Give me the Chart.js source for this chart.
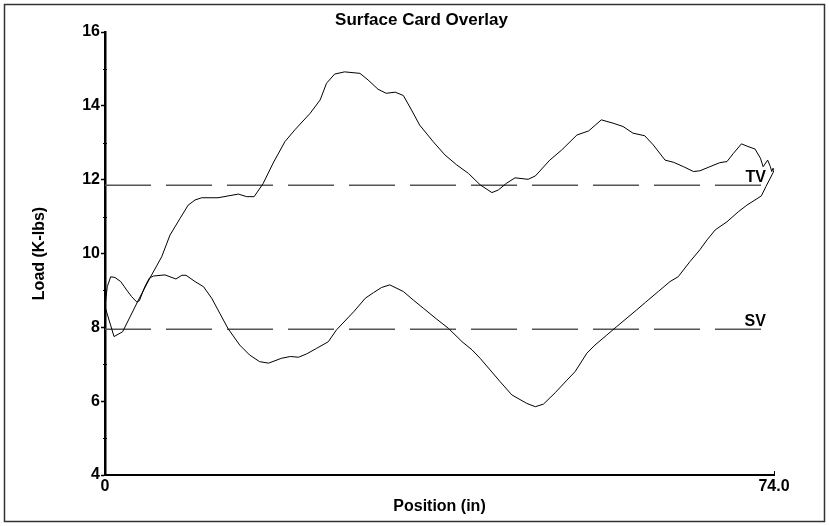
<!DOCTYPE html>
<html>
<head>
<meta charset="utf-8">
<title>Surface Card Overlay</title>
<script src="https://cdn.jsdelivr.net/npm/chart.js@4.4.1/dist/chart.umd.min.js"></script>
<style>
  html, body { margin: 0; padding: 0; background: #ffffff; }
  canvas { display: block; }
</style>
</head>
<body>
<canvas id="card" width="829" height="526"></canvas>
<script>
// Upstroke of the surface card: position (in) and load (K-lbs)
const upPos  = [0, 1.0, 1.95, 3.7, 4.98, 6.27, 7.19, 8.3, 9.2, 9.96, 10.7, 12.5, 14.75, 15.67, 16.5, 17.5, 18.6, 19.9, 21.0, 22.7, 23.8, 24.5, 25.4, 26.5, 28.2, 29.1, 30.2, 31.1, 32.1, 33.0, 33.9, 34.8, 36.3, 37.6, 38.9, 40.2, 41.5, 42.8, 43.5, 44.4, 45.35, 46.8, 47.6, 49.2, 50.5, 52.2, 53.5, 54.9, 56.2, 57.3, 58.4, 59.7, 60.65, 61.95, 62.9, 64.0, 65.1, 65.8, 66.9, 68.0, 68.8, 69.5, 70.4, 71.0, 71.9, 72.5, 72.8, 73.3, 73.6, 73.75, 73.9, 74.0];
const upLoad = [8.56, 7.75, 7.88, 8.74, 9.34, 9.91, 10.5, 10.95, 11.31, 11.45, 11.51, 11.51, 11.61, 11.54, 11.54, 11.9, 12.45, 13.03, 13.35, 13.8, 14.16, 14.61, 14.86, 14.92, 14.88, 14.7, 14.45, 14.34, 14.37, 14.28, 13.89, 13.48, 13.03, 12.67, 12.4, 12.17, 11.86, 11.65, 11.72, 11.9, 12.05, 12.01, 12.1, 12.53, 12.8, 13.21, 13.32, 13.62, 13.53, 13.44, 13.26, 13.19, 12.94, 12.53, 12.47, 12.35, 12.22, 12.24, 12.35, 12.46, 12.49, 12.71, 12.97, 12.91, 12.83, 12.58, 12.35, 12.53, 12.35, 12.22, 12.31, 12.26];

// Downstroke, running from the top of the stroke back to zero
const downPos  = [74.0, 73.9, 73.1, 72.6, 71.9, 71.0, 70.05, 68.8, 67.5, 66.6, 65.8, 64.7, 63.4, 62.5, 61.2, 59.8, 58.8, 56.6, 55.5, 54.2, 53.3, 52.0, 51.1, 49.8, 48.5, 47.6, 46.65, 45.0, 43.7, 41.5, 40.6, 39.5, 38.0, 36.7, 35.2, 34.1, 33.0, 31.5, 30.6, 29.7, 28.8, 27.5, 25.6, 24.7, 23.4, 22.3, 21.4, 20.5, 19.5, 18.1, 17.1, 16.0, 14.9, 13.6, 12.7, 11.8, 10.9, 9.96, 8.96, 8.5, 7.85, 6.64, 5.35, 4.9, 4.4, 3.8, 3.5, 2.95, 2.4, 1.74, 1.1, 0.63, 0.25, 0];
const downLoad = [12.26, 12.19, 11.81, 11.56, 11.45, 11.31, 11.13, 10.86, 10.64, 10.37, 10.1, 9.78, 9.37, 9.24, 8.97, 8.68, 8.47, 8.02, 7.79, 7.52, 7.3, 6.8, 6.57, 6.23, 5.92, 5.85, 5.94, 6.17, 6.53, 7.16, 7.39, 7.61, 7.97, 8.22, 8.52, 8.74, 8.97, 9.15, 9.08, 8.94, 8.79, 8.42, 7.93, 7.61, 7.43, 7.28, 7.19, 7.21, 7.16, 7.03, 7.07, 7.25, 7.52, 7.97, 8.38, 8.79, 9.1, 9.24, 9.41, 9.41, 9.31, 9.42, 9.39, 9.33, 9.1, 8.72, 8.69, 8.83, 9.01, 9.24, 9.35, 9.37, 9.1, 8.56];

// Reference loads: travelling valve and standing valve
const refNames = ['TV', 'SV'];
const refLoads = [11.85, 7.95];
const refEnd = 73.1;

// Axis ranges and tick labels
const xTicks = [0, 74];
const xTickLabels = ['0', '74.0'];
const yMin = 4, yMax = 16, yStep = 2;

const toPoints = (xs, ys) => xs.map((x, i) => ({ x: x, y: ys[i] }));
const FONT = '"Liberation Sans", Arial, Helvetica, sans-serif';

const refDatasets = refLoads.map((v, i) => ({
  label: refNames[i],
  data: [{ x: 0, y: v }, { x: refEnd, y: v }],
  borderColor: '#555555',
  borderWidth: 1.5,
  borderDash: [46, 15],
  pointRadius: 0,
  showLine: true,
  order: 2
}));

const decorations = {
  id: 'decorations',
  afterDraw(chart) {
    const { ctx } = chart;
    const xs = chart.scales.x, ys = chart.scales.y;
    ctx.save();
    // frame round the page
    ctx.strokeStyle = '#333333';
    ctx.lineWidth = 1.5;
    ctx.strokeRect(4.5, 4.5, 820, 517);
    // chart title
    ctx.fillStyle = '#000000';
    ctx.font = 'bold 17px ' + FONT;
    ctx.textAlign = 'center';
    ctx.textBaseline = 'alphabetic';
    ctx.fillText('Surface Card Overlay', 421.5, 25);
    // minor ticks on the load axis
    ctx.strokeStyle = '#000000';
    ctx.lineWidth = 1;
    for (let v = yMin + 1; v < yMax; v += yStep) {
      const py = Math.round(ys.getPixelForValue(v)) + 0.5;
      ctx.beginPath();
      ctx.moveTo(xs.left - 2, py);
      ctx.lineTo(xs.left + 2, py);
      ctx.stroke();
    }
    // end-of-stroke tick on the position axis
    const px = Math.round(xs.getPixelForValue(xTicks[xTicks.length - 1])) + 0.5;
    ctx.beginPath();
    ctx.moveTo(px, ys.bottom);
    ctx.lineTo(px, ys.bottom - 4);
    ctx.stroke();
    // reference line labels
    ctx.font = 'bold 16px ' + FONT;
    ctx.textAlign = 'right';
    refLoads.forEach((v, i) => {
      ctx.fillText(refNames[i], xs.getPixelForValue(refEnd), ys.getPixelForValue(v) - 3);
    });
    ctx.restore();
  }
};

new Chart(document.getElementById('card'), {
  type: 'scatter',
  data: {
    datasets: [
      ...refDatasets,
      {
        label: 'Upstroke',
        data: toPoints(upPos, upLoad),
        borderColor: '#000000',
        borderWidth: 1,
        pointRadius: 0,
        showLine: true,
        tension: 0,
        order: 1
      },
      {
        label: 'Downstroke',
        data: toPoints(downPos, downLoad),
        borderColor: '#000000',
        borderWidth: 1,
        pointRadius: 0,
        showLine: true,
        tension: 0,
        order: 1
      }
    ]
  },
  options: {
    responsive: false,
    animation: false,
    layout: { padding: { top: 32, right: 55, left: 0, bottom: 0 } },
    plugins: {
      legend: { display: false },
      tooltip: { enabled: false },
      title: { display: false }
    },
    scales: {
      x: {
        type: 'linear',
        min: xTicks[0],
        max: xTicks[xTicks.length - 1],
        afterBuildTicks: (s) => { s.ticks = xTicks.map(v => ({ value: v })); },
        afterFit: (s) => { s.height = 51; },
        ticks: {
          autoSkip: false,
          maxRotation: 0,
          padding: 2,
          color: '#000000',
          font: { family: FONT, size: 16, weight: 'bold' },
          callback: (v) => xTickLabels[xTicks.indexOf(v)]
        },
        grid: { drawOnChartArea: false, drawTicks: false },
        border: { display: true, color: '#000000', width: 2 },
        title: {
          display: true,
          text: 'Position (in)',
          color: '#000000',
          font: { family: FONT, size: 16, weight: 'bold' },
          padding: { top: 0, bottom: 10 }
        }
      },
      y: {
        min: yMin,
        max: yMax,
        afterFit: (s) => { s.width = 105; },
        ticks: {
          stepSize: yStep,
          padding: 1,
          color: '#000000',
          font: { family: FONT, size: 16, weight: 'bold' }
        },
        grid: { drawOnChartArea: false, drawTicks: true, tickLength: 4, tickColor: '#000000', tickWidth: 1.5 },
        border: { display: true, color: '#000000', width: 2.5 },
        title: {
          display: true,
          text: 'Load (K-lbs)',
          color: '#000000',
          font: { family: FONT, size: 16, weight: 'bold' },
          padding: { top: 30, bottom: 0 }
        }
      }
    }
  },
  plugins: [decorations]
});
</script>
</body>
</html>
